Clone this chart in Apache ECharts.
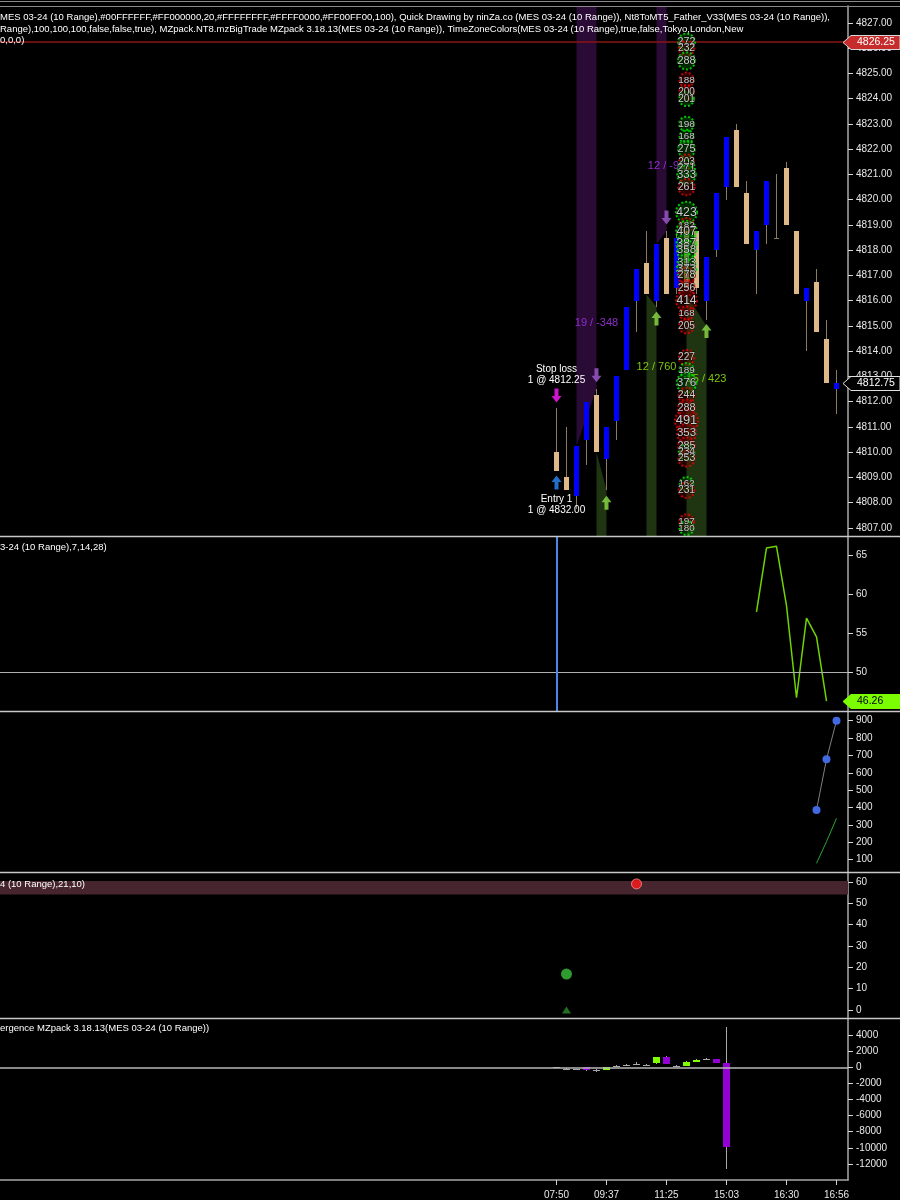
<!DOCTYPE html>
<html><head><meta charset="utf-8">
<script src="https://cdn.jsdelivr.net/npm/echarts@6/dist/echarts.min.js"></script>
<style>html,body{margin:0;padding:0;background:#000;}#c{width:900px;height:1200px;}</style>
</head><body><div id="c"></div>
<script>
// ---------------- DATA ----------------
const timeLabels = ['07:50','09:37','11:25','15:03','16:30','16:56'];
const timeTickBars = [0,5,11,17,23,28];
const priceTicks = [4807,4808,4809,4810,4811,4812,4813,4814,4815,4816,4817,4818,4819,4820,4821,4822,4823,4824,4825,4826,4827];

const barOpen  = [4810.0,4809.0,4808.25,4810.5,4812.25,4809.75,4811.25,4813.25,4816.0,4817.5,4816.0,4818.5,4816.5,4818.75,4818.75,4816.0,4818.0,4820.5,4822.75,4820.25,4818.0,4819.0,4818.5,4821.25,4818.75,4816.0,4816.75,4814.5,4812.5];
const barClose = [4809.25,4808.5,4810.25,4812.0,4810.0,4811.0,4813.0,4815.75,4817.25,4816.25,4818.25,4816.25,4818.5,4816.5,4816.5,4817.75,4820.25,4822.5,4820.5,4818.25,4818.75,4820.75,4818.5,4819.0,4816.25,4816.5,4814.75,4812.75,4812.75];
const barLow   = [4809.25,4808.5,4807.75,4809.5,4810.0,4808.5,4810.5,4813.25,4814.75,4816.25,4815.75,4816.25,4816.25,4816.5,4816.25,4815.25,4817.75,4820.0,4820.5,4818.25,4816.25,4818.25,4818.5,4819.0,4816.25,4814.0,4814.75,4812.75,4811.5];
const barHigh  = [4811.75,4811.0,4810.25,4812.0,4812.5,4811.0,4813.0,4815.75,4817.25,4818.75,4818.25,4818.75,4818.75,4819.0,4818.75,4817.75,4820.25,4822.5,4823.0,4820.75,4818.75,4820.75,4821.0,4821.5,4818.75,4816.5,4817.25,4815.25,4813.25];

const stopLinePrice = 4826.25;
const lastPrice = 4812.75;

const bubbleBar = 13;
const bubblePrice = [4826.25,4826.0,4825.5,4824.75,4824.25,4824.0,4823.0,4822.5,4822.0,4821.5,4821.25,4821.0,4820.5,4819.5,4819.0,4818.75,4818.25,4818.0,4817.5,4817.25,4817.0,4816.5,4816.0,4815.5,4815.0,4813.75,4813.25,4812.75,4812.25,4811.75,4811.25,4810.75,4810.25,4810.0,4809.75,4808.75,4808.5,4807.25,4807.0];
const bubbleSize  = [272,232,288,188,200,201,198,168,275,203,271,333,261,423,182,407,387,358,313,373,278,256,414,168,205,227,189,376,244,288,491,353,285,234,253,162,231,197,180];
const bubbleSide  = ['B','S','B','S','S','B','B','B','B','S','B','B','S','B','S','B','B','B','B','B','S','S','S','S','S','S','B','B','S','S','S','S','S','B','S','B','S','S','B'];

const zoneStart = [2,10,4,9,13];
const zoneEnd   = [4,11,5,10,15];
const zoneP0    = [4810.25,4818.25,4810.0,4816.25,4816.25];
const zoneP1    = [4812.5,4818.75,4808.5,4815.75,4815.0];
const zoneKind  = ['sell','sell','buy','buy','buy'];

const arrowBar   = [4,11,5,10,15,0,0];
const arrowPrice = [4813.05,4819.3,4808.0,4815.3,4814.8,4812.25,4808.8];
const arrowKind  = ['sell','sell','buy','buy','buy','stop','entry'];

const noteBar   = [0,0,0,0,4,11,10,15];
const notePrice = [4813.28,4812.85,4808.15,4807.72,4815.12,4821.34,4813.39,4812.89];
const noteText  = ['Stop loss','1 @ 4812.25','Entry 1','1 @ 4832.00','19 / -348','12 / -90','12 / 760','15 / 423'];
const noteKind  = ['order','order','order','order','sell','sell','buy','buy'];

const ind2Bars = [20,21,22,23,24,25,26,27];
const ind2Vals = [57.7,65.9,66.1,58.5,46.7,56.9,54.5,46.26];
const ind2Ticks = [50,55,60,65];
const ind2Level = 50;
const ind2Marker = 0;

const p3Bars  = [26,27,28];
const p3Blue  = [386,678,900];
const p3Green = [79,204,338];
const p3Ticks = [100,200,300,400,500,600,700,800,900];

const p4Ticks = [0,10,20,30,40,50,60];
const p4Band = [54,60.3];
const p4RedBar = [8], p4RedVal = [59];
const p4GreenBar = [1], p4GreenVal = [16.8];
const p4TriBar = [1], p4TriVal = [0];

const deltaOpen  = [0,-150,-250,0,-290,-330,200,330,460,330,500,1240,200,200,620,1040,1000,500];
const deltaClose = [0,-150,-250,-330,-290,0,200,330,460,330,1240,420,200,620,950,1040,500,-9930];
const deltaLow   = [-40,-300,-350,-400,-620,-380,100,250,400,250,450,400,150,150,600,1000,480,-12690];
const deltaHigh  = [20,-100,-150,0,-250,0,300,400,700,400,1250,1450,260,750,1000,1100,1020,4960];
const deltaTicks = [-12000,-10000,-8000,-6000,-4000,-2000,0,2000,4000];

const headerLines = [
 'MES 03-24 (10 Range),#00FFFFFF,#FF000000,20,#FFFFFFFF,#FFFF0000,#FF00FF00,100), Quick Drawing by ninZa.co (MES 03-24 (10 Range)), Nt8ToMT5_Father_V33(MES 03-24 (10 Range)),',
 'Range),100,100,100,false,false,true), MZpack.NT8.mzBigTrade MZpack 3.18.13(MES 03-24 (10 Range)), TimeZoneColors(MES 03-24 (10 Range),true,false,Tokyo,London,New',
 '0,0,0)'
];
const panelTitles = ['3-24 (10 Range),7,14,28)','4 (10 Range),21,10)','ergence MZpack 3.18.13(MES 03-24 (10 Range))'];

// ---------------- STYLE / LAYOUT ----------------
const FONT = 'Arial, "Liberation Sans", sans-serif';
const X_MIN = -55.65, X_MAX = 29.15;
const grids = [
 {left:0,right:52,top:6,height:530},
 {left:0,right:52,top:537,height:174},
 {left:0,right:52,top:712,height:160},
 {left:0,right:52,top:873,height:145},
 {left:0,right:52,top:1019,height:161}
];
const yRanges = [[4806.683,4827.673],[45.0,67.3],[29,950],[-3.74,64.1],[-14000,6000]];
const yTicks = [priceTicks, ind2Ticks, p3Ticks, p4Ticks, deltaTicks];
const yFmt = [v=>v.toFixed(2), v=>String(v), v=>String(v), v=>String(v), v=>String(v)];

const WICK = '#8c7a5e';
const colUp = '#0000ff', colDn = '#deb887';

function candleRender(bodyW, colorFn, wick){
  return function(params, api){
    const i=api.value(0), o=api.value(1), c=api.value(2), l=api.value(3), h=api.value(4);
    const pH=api.coord([i,h]), pL=api.coord([i,l]), pO=api.coord([i,o]), pC=api.coord([i,c]);
    const xc=Math.floor(pH[0]);
    const top=Math.round(Math.min(pO[1],pC[1])), bot=Math.round(Math.max(pO[1],pC[1]));
    return {type:'group', children:[
      {type:'line', shape:{x1:xc+0.5,y1:Math.round(pH[1]),x2:xc+0.5,y2:Math.round(pL[1])}, style:{stroke:wick,lineWidth:1}},
      {type:'rect', shape:{x:xc-(bodyW-1)/2,y:top,width:bodyW,height:Math.max(1,bot-top)}, style:{fill:colorFn(o,c)}}
    ]};
  };
}

function zoneRender(params, api){
  const i = params.dataIndex;
  const cs = params.coordSys;
  const a0 = api.coord([zoneStart[i], zoneP0[i]]), a1 = api.coord([zoneEnd[i], zoneP1[i]]);
  let pts;
  if (zoneKind[i]==='sell') pts=[[a0[0],cs.y],[a1[0],cs.y],[a1[0],a1[1]],[a0[0],a0[1]]];
  else pts=[[a0[0],a0[1]],[a1[0],a1[1]],[a1[0],cs.y+cs.height],[a0[0],cs.y+cs.height]];
  return {type:'polygon', shape:{points:pts}, style:{fill: zoneKind[i]==='sell' ? '#2a0b36' : '#1f3410'}};
}

const noteStyle = {order:{fill:'#ffffff',font:'10px '+FONT}, sell:{fill:'#8e2fcc',font:'11px '+FONT}, buy:{fill:'#7ec80e',font:'11px '+FONT}};
function noteRender(params, api){
  const i = params.dataIndex;
  const p = api.coord([noteBar[i], notePrice[i]]);
  const st = noteStyle[noteKind[i]];
  return {type:'text', x:p[0], y:p[1], style:{text:noteText[i], fill:st.fill, font:st.font, align:'center', verticalAlign:'middle'}};
}

function tagRender(kind){
  return function(params, api){
    const cs = params.coordSys;
    const v = api.value(1);
    const y = Math.round(api.coord([X_MAX, v])[1]) + 0.5;
    const xr = cs.x + cs.width;
    const s = kind==='red' ? {fill:'#c62c2c',stroke:'#d8d8d8',txt:'#ffffff'} : kind==='last' ? {fill:'#000000',stroke:'#e0e0e0',txt:'#ffffff'} : {fill:'#7cfc00',stroke:'#7cfc00',txt:'#000000'};
    return {type:'group', children:[
      {type:'polygon', shape:{points:[[xr-5,y],[xr+3,y-7],[900,y-7],[900,y+7],[xr+3,y+7]]}, style:{fill:s.fill,stroke:s.stroke,lineWidth:1}},
      {type:'text', x:xr+9, y:y, style:{text:v.toFixed(2), fill:s.txt, font:'10.5px '+FONT, verticalAlign:'middle'}}
    ]};
  };
}

const arrowPath = {
  down:'path://M3,0 L7,0 L7,7 L10,7 L5,13 L0,7 L3,7 Z',
  up:'path://M5,0 L10,6 L7,6 L7,13 L3,13 L3,6 L0,6 Z'
};
const arrowStyle = {sell:{dir:'down',color:'#a35bd6'}, buy:{dir:'up',color:'#8fe04a'}, stop:{dir:'down',color:'#ff1aff'}, entry:{dir:'up',color:'#2b8cff'}};

// ---------------- OPTION ----------------
const xAxes = grids.map((g,k)=>({
  type:'value', gridIndex:k, min:X_MIN, max:X_MAX, show: k===4,
  splitLine:{show:false},
  axisLine:{show:true, onZero:false, lineStyle:{color:'#a8a8a8',width:1.5}},
  axisTick:{show:true, customValues:timeTickBars, length:5, lineStyle:{color:'#d0d0d0'}},
  axisLabel:{customValues:timeTickBars, formatter:v=>timeLabels[timeTickBars.indexOf(Math.round(v))], color:'#e8e8e8', fontSize:10, fontFamily:FONT, margin:10}
}));
const yAxes = grids.map((g,k)=>({
  type:'value', gridIndex:k, position:'right', min:yRanges[k][0], max:yRanges[k][1],
  splitLine:{show:false},
  axisLine:{show:true, onZero:false, lineStyle:{color:'#a8a8a8',width:1.5}},
  axisTick:{show:true, customValues:yTicks[k], length:5, lineStyle:{color:'#d8d8d8'}},
  axisLabel:{customValues:yTicks[k], formatter:yFmt[k], color:'#e8e8e8', fontSize:10, fontFamily:FONT, margin:8}
}));

const priceData = barOpen.map((o,i)=>[i,o,barClose[i],barLow[i],barHigh[i]]);
const deltaData = deltaOpen.map((o,i)=>[i,o,deltaClose[i],deltaLow[i],deltaHigh[i]]);

const bubbleData = bubblePrice.map((p,i)=>{
  const s = bubbleSize[i], buy = bubbleSide[i]==='B';
  return {value:[bubbleBar,p,s], symbolSize:9+s/35,
    itemStyle:{color: buy?'rgba(0,120,0,0.45)':'rgba(120,0,0,0.45)', borderColor: buy?'#00f000':'#f00000', borderWidth:2, borderType:'dotted'},
    label:{show:true, position:'inside', formatter:String(s), color:'#ffffff', fontSize:8+s/100, fontFamily:FONT, textBorderColor:'#000', textBorderWidth:1}};
});
const arrowData = arrowBar.map((b,i)=>{
  const st = arrowStyle[arrowKind[i]];
  return {value:[b,arrowPrice[i]], symbol:arrowPath[st.dir], symbolSize:[10,14], itemStyle:{color:st.color}};
});

const graphics = [];
graphics.push({type:'line', shape:{x1:0,y1:1.5,x2:900,y2:1.5}, style:{stroke:'#8a8a8a',lineWidth:1}, z:50});
graphics.push({type:'line', shape:{x1:0,y1:6.5,x2:900,y2:6.5}, style:{stroke:'#8a8a8a',lineWidth:1}, z:50});
[536.5,711.5,872.5,1018.5].forEach(y=>graphics.push({type:'line', shape:{x1:0,y1:y,x2:900,y2:y}, style:{stroke:'#c8c8c8',lineWidth:1.5}, z:50}));
const headerY = [17,29,40];
headerLines.forEach((t,k)=>graphics.push({type:'text', x:0, y:headerY[k], style:{text:t, fill:'#ffffff', font:'9.5px '+FONT, verticalAlign:'middle'}, z:60}));
const titleY = [547,884,1028];
panelTitles.forEach((t,k)=>graphics.push({type:'text', x:0, y:titleY[k], style:{text:t, fill:'#ffffff', font:'9.5px '+FONT, verticalAlign:'middle'}, z:60}));

const option = {
  backgroundColor:'#000000',
  animation:false,
  grid:grids,
  xAxis:xAxes,
  yAxis:yAxes,
  graphic:graphics,
  series:[
    {type:'custom', xAxisIndex:0, yAxisIndex:0, z:1, renderItem:zoneRender, data:zoneStart.map((s,i)=>[s,zoneP0[i]]), encode:{x:0,y:1}, clip:true},
    {type:'custom', xAxisIndex:0, yAxisIndex:0, z:3, clip:true,
      renderItem:candleRender(5,(o,c)=> c>o?colUp:(c<o?colDn:WICK), WICK), data:priceData, encode:{x:0,y:[1,2,3,4]},
      markLine:{silent:true, symbol:'none', label:{show:false}, lineStyle:{color:'#8b1515',width:1.5,type:'solid'}, data:[{yAxis:stopLinePrice}]}},
    {type:'custom', xAxisIndex:0, yAxisIndex:0, z:4, renderItem:noteRender, data:noteBar.map((b,i)=>[b,notePrice[i]]), encode:{x:0,y:1}},
    {type:'scatter', xAxisIndex:0, yAxisIndex:0, z:5, data:bubbleData, encode:{x:0,y:1}},
    {type:'scatter', xAxisIndex:0, yAxisIndex:0, z:6, data:arrowData},
    {type:'custom', xAxisIndex:0, yAxisIndex:0, z:10, clip:false, renderItem:tagRender('red'), data:[[X_MAX,stopLinePrice]], encode:{x:0,y:1}},
    {type:'custom', xAxisIndex:0, yAxisIndex:0, z:10, clip:false, renderItem:tagRender('last'), data:[[X_MAX,lastPrice]], encode:{x:0,y:1}},
    // panel 2
    {type:'line', xAxisIndex:1, yAxisIndex:1, z:3, data:ind2Bars.map((b,i)=>[b,ind2Vals[i]]), showSymbol:false, lineStyle:{color:'#6fd400',width:1.5}, itemStyle:{color:'#6fd400'},
      markLine:{silent:true, symbol:'none', label:{show:false}, data:[
        {yAxis:ind2Level, lineStyle:{color:'#b0b0b0',width:1,type:'solid'}},
        {xAxis:ind2Marker, lineStyle:{color:'#4a86e8',width:2,type:'solid'}}]}},
    {type:'custom', xAxisIndex:1, yAxisIndex:1, z:10, clip:false, renderItem:tagRender('green'), data:[[X_MAX,ind2Vals[ind2Vals.length-1]]], encode:{x:0,y:1}},
    // panel 3
    {type:'line', xAxisIndex:2, yAxisIndex:2, z:4, data:p3Bars.map((b,i)=>[b,p3Blue[i]]), symbol:'circle', symbolSize:8, showSymbol:true, lineStyle:{color:'#808080',width:1}, itemStyle:{color:'#4169e1'}},
    {type:'line', xAxisIndex:2, yAxisIndex:2, z:3, data:p3Bars.map((b,i)=>[b,p3Green[i]]), showSymbol:false, lineStyle:{color:'#2ca82c',width:1}},
    // panel 4
    {type:'scatter', xAxisIndex:3, yAxisIndex:3, z:4, data:p4RedBar.map((b,i)=>[b,p4RedVal[i]]), symbol:'circle', symbolSize:10, itemStyle:{color:'#ff1a1a',borderColor:'#ff9090',borderWidth:1},
      markArea:{silent:true, itemStyle:{color:'#47252f'}, data:[[{yAxis:p4Band[0]},{yAxis:p4Band[1]}]]}},
    {type:'scatter', xAxisIndex:3, yAxisIndex:3, z:4, data:p4GreenBar.map((b,i)=>[b,p4GreenVal[i]]), symbol:'circle', symbolSize:11, itemStyle:{color:'#3cc23c'}},
    {type:'scatter', xAxisIndex:3, yAxisIndex:3, z:4, data:p4TriBar.map((b,i)=>[b,p4TriVal[i]]), symbol:'triangle', symbolSize:[9,7], itemStyle:{color:'#2a8a2a'}},
    // panel 5
    {type:'custom', xAxisIndex:4, yAxisIndex:4, z:3, clip:true,
      renderItem:candleRender(7,(o,c)=> Math.abs(c-o)<50?'#a8a8a8':(c>o?'#7fff00':'#9400d3'), '#a8a8a8'), data:deltaData, encode:{x:0,y:[1,2,3,4]},
      markLine:{silent:true, symbol:'none', label:{show:false}, lineStyle:{color:'#b8b8b8',width:1.5,type:'solid'}, data:[{yAxis:0}]}}
  ]
};
const chart = echarts.init(document.getElementById('c'), null, {renderer:'canvas'});
chart.setOption(option);
</script></body></html>
